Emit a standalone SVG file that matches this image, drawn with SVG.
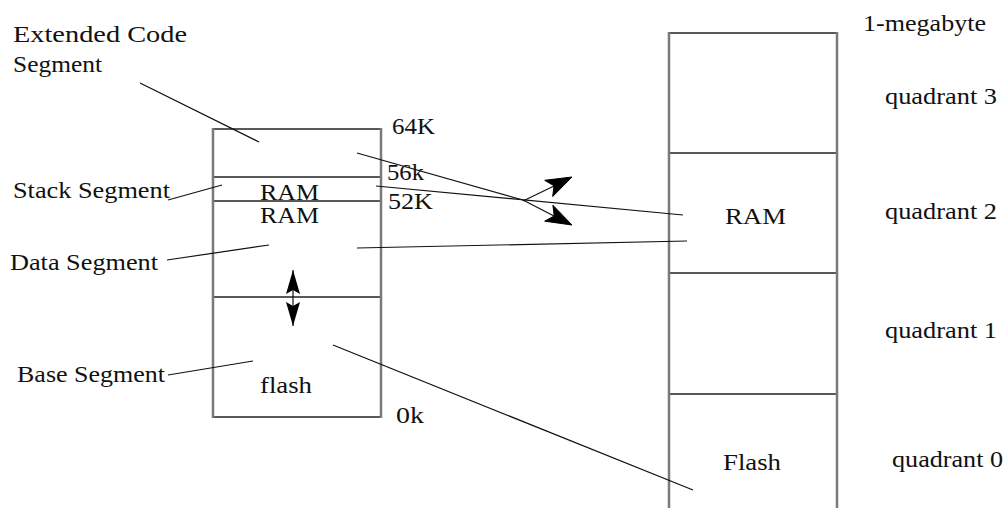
<svg xmlns="http://www.w3.org/2000/svg" width="1007" height="508" viewBox="0 0 1007 508">
<style>
text{font-family:"Liberation Serif","DejaVu Serif","Times New Roman",serif;font-size:23px;fill:#111}
.v{stroke:#7a7a7a;stroke-width:2.5;fill:none}
.h{stroke:#222;stroke-width:1.5;fill:none}
.c{stroke:#111;stroke-width:1.2;fill:none}
.head{fill:#000;stroke:#000;stroke-width:1}
</style>
<defs>
<marker id="av" viewBox="0 0 24 14" refX="24" refY="7" markerWidth="24" markerHeight="14" markerUnits="userSpaceOnUse" orient="auto-start-reverse">
<path d="M0,0 L24,7 L0,14 L4,7 Z" fill="#000"/>
</marker>
</defs>
<rect width="1007" height="508" fill="#fff"/>

<g id="left-block">
<line class="h" x1="213" y1="129" x2="381" y2="129"/>
<line class="h" x1="213" y1="177" x2="381" y2="177"/>
<line class="h" x1="213" y1="201" x2="381" y2="201"/>
<line class="h" x1="213" y1="297" x2="381" y2="297"/>
<line class="h" x1="213" y1="417" x2="381" y2="417"/>
<line class="v" x1="213" y1="128" x2="213" y2="418"/>
<line class="v" x1="381" y1="128" x2="381" y2="418"/>
<text x="260" y="200" textLength="59" lengthAdjust="spacingAndGlyphs">RAM</text>
<text x="260" y="223" textLength="59" lengthAdjust="spacingAndGlyphs">RAM</text>
<text x="260" y="393" textLength="52" lengthAdjust="spacingAndGlyphs">flash</text>
<text x="392" y="134" textLength="43" lengthAdjust="spacingAndGlyphs">64K</text>
<text x="387" y="180" textLength="37" lengthAdjust="spacingAndGlyphs">56k</text>
<text x="388" y="209" textLength="45" lengthAdjust="spacingAndGlyphs">52K</text>
<text x="396" y="423" textLength="28" lengthAdjust="spacingAndGlyphs">0k</text>
</g>

<g id="right-block">
<line class="h" x1="669" y1="33" x2="837" y2="33"/>
<line class="h" x1="669" y1="153" x2="837" y2="153"/>
<line class="h" x1="669" y1="273" x2="837" y2="273"/>
<line class="h" x1="669" y1="394" x2="837" y2="394"/>
<line class="v" x1="669" y1="32" x2="669" y2="508"/>
<line class="v" x1="837" y1="32" x2="837" y2="508"/>
<text x="725" y="224" textLength="61" lengthAdjust="spacingAndGlyphs">RAM</text>
<text x="723" y="470" textLength="58" lengthAdjust="spacingAndGlyphs">Flash</text>
</g>

<g id="labels">
<text x="13" y="42" textLength="174" lengthAdjust="spacingAndGlyphs">Extended Code</text>
<text x="13" y="72" textLength="89" lengthAdjust="spacingAndGlyphs">Segment</text>
<text x="13" y="197.5" textLength="157" lengthAdjust="spacingAndGlyphs">Stack Segment</text>
<text x="10" y="270" textLength="148" lengthAdjust="spacingAndGlyphs">Data Segment</text>
<text x="17" y="382" textLength="148" lengthAdjust="spacingAndGlyphs">Base Segment</text>
<text x="863" y="31" textLength="123" lengthAdjust="spacingAndGlyphs">1-megabyte</text>
<text x="885" y="104" textLength="112" lengthAdjust="spacingAndGlyphs">quadrant 3</text>
<text x="885" y="219" textLength="112" lengthAdjust="spacingAndGlyphs">quadrant 2</text>
<text x="885" y="338" textLength="112" lengthAdjust="spacingAndGlyphs">quadrant 1</text>
<text x="892" y="467" textLength="111" lengthAdjust="spacingAndGlyphs">quadrant 0</text>
</g>

<g id="connectors">
<line class="c" x1="140" y1="83" x2="259" y2="142"/>
<line class="c" x1="168" y1="200" x2="222" y2="185"/>
<line class="c" x1="167" y1="260" x2="269" y2="245"/>
<line class="c" x1="168" y1="375" x2="253" y2="361"/>
<line class="c" x1="357" y1="153" x2="523" y2="200"/>
<line class="c" x1="523" y1="200" x2="554" y2="216"/>
<polygon class="head" points="572,225 544.7,221.2 554.2,215.9 552.9,205.2"/>
<line class="c" x1="523" y1="201" x2="554" y2="186"/>
<polygon class="head" points="572,177 552.7,196.5 554,185.8 544.7,180.3"/>
<line class="c" x1="376" y1="186" x2="683" y2="215"/>
<line class="c" x1="357" y1="248" x2="687" y2="241"/>
<line class="c" x1="333" y1="345" x2="693" y2="490"/>
<line class="c" x1="293" y1="270" x2="293" y2="326" marker-start="url(#av)" marker-end="url(#av)"/>
</g>
</svg>
